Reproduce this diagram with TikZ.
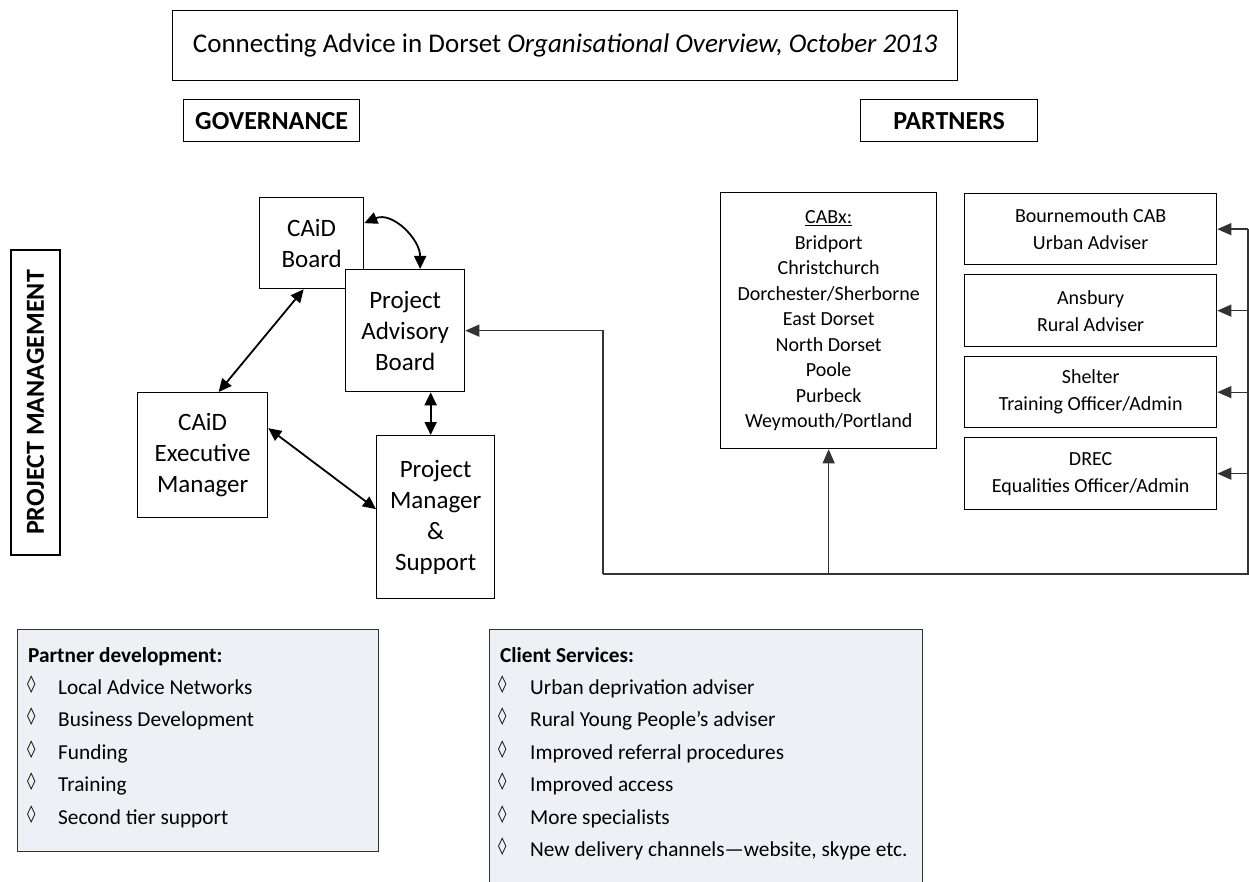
\documentclass[tikz,border=0pt]{standalone}
\usepackage{fontspec}
\setmainfont{Carlito}
\newfontfamily\djv{DejaVu Sans}
\usetikzlibrary{arrows.meta}
\definecolor{panel}{HTML}{EDF0F4}
\definecolor{edge}{HTML}{333333}
\begin{document}
\begin{tikzpicture}[x=1pt,y=-1pt,
  box/.style={draw=black, line width=1.3pt, inner sep=0pt, align=center, anchor=north west},
  bigtxt/.style={font=\fontsize{25}{31}\selectfont},
  midtxt/.style={font=\fontsize{20}{27}\selectfont},
  headtxt/.style={font=\fontsize{26}{30}\selectfont\bfseries},
  panelbox/.style={draw=edge, fill=panel, line width=1.3pt, anchor=north west, inner sep=0pt},
  itemtxt/.style={font=\fontsize{21.3}{24}\selectfont, anchor=base west, inner sep=0pt},
  itemhead/.style={font=\fontsize{21.3}{24}\selectfont\bfseries, anchor=base west, inner sep=0pt},
  dia/.style={font=\djv\fontsize{17}{18}\selectfont, anchor=base west, inner sep=0pt},
  link/.style={line width=1.8pt, {Triangle[length=13pt,width=12pt]}-{Triangle[length=13pt,width=12pt]}},
  feed/.style={line width=1.3pt, draw=edge, -{Triangle[length=14pt,width=12pt]}},
  bus/.style={line width=1.3pt, draw=edge}]
\fill[white] (0,0) rectangle (1249,882);
\useasboundingbox (0,0) rectangle (1249,882);

% headings
\node[box, minimum width=785pt, minimum height=70pt, font=\fontsize{27}{32}\selectfont] (title) at (172,10)
  {Connecting Advice in Dorset \textit{Organisational Overview, October 2013}};
\node[box, minimum width=176pt, minimum height=42pt, headtxt] (gov) at (183,99) {GOVERNANCE};
\node[box, minimum width=177pt, minimum height=42pt, headtxt] (partners) at (860,99) {PARTNERS};
\node[draw=black, line width=1.3pt, inner sep=0pt, minimum width=305pt, minimum height=49pt,
      headtxt, rotate=90] (pm) at (35.5,402.5) {PROJECT MANAGEMENT};

% governance boxes
\node[box, minimum width=104pt, minimum height=91pt, bigtxt] (caid) at (259,197) {CAiD\\Board};
\node[box, fill=white, minimum width=119pt, minimum height=122pt, bigtxt] (pab) at (345,269) {Project\\Advisory\\Board};
\node[box, minimum width=130pt, minimum height=125pt, bigtxt] (exec) at (137,392) {CAiD\\Executive\\Manager};
\node[box, minimum width=118pt, minimum height=163pt, bigtxt] (pms) at (376,435) {Project\\Manager\\\&\\Support};

% partner boxes
\node[box, minimum width=216pt, minimum height=256pt, font=\fontsize{20}{25.5}\selectfont] (cabx) at (720,192)
  {\underline{CABx:}\\Bridport\\Christchurch\\Dorchester/Sherborne\\East Dorset\\North Dorset\\Poole\\Purbeck\\Weymouth/Portland};
\node[box, minimum width=252pt, minimum height=71pt, midtxt] (bourn) at (964,193) {Bournemouth CAB\\Urban Adviser};
\node[box, minimum width=252pt, minimum height=72pt, midtxt] (ansb) at (964,274) {Ansbury\\Rural Adviser};
\node[box, minimum width=252pt, minimum height=71pt, midtxt] (shel) at (964,356) {Shelter\\Training Officer/Admin};
\node[box, minimum width=252pt, minimum height=72pt, midtxt] (drec) at (964,437) {DREC\\Equalities Officer/Admin};

% governance links
\draw[link] ([yshift=20pt]caid.east) .. controls +(28,-12) and +(0,-30) .. ([xshift=15pt]pab.north);
\draw[link] ([xshift=-8pt]caid.south) -- ([xshift=16pt]exec.north);
\draw[link] ([xshift=-5pt]pms.north |- pab.south) -- ([xshift=-5pt]pms.north);
\draw[link] ([yshift=27pt]exec.east) -- ([yshift=8pt]pms.west);

% partner bus
\coordinate (busL) at (603,574);
\coordinate (busR) at (1248,574);
\draw[feed] (busL) |- (pab.east);
\draw[bus] (busL) -- (busR) -- (busR |- bourn.east);
\draw[feed] (cabx.south |- busL) -- (cabx.south);
\draw[feed] (busR |- bourn.east) -- (bourn.east);
\draw[feed] (busR |- ansb.east) -- (ansb.east);
\draw[feed] (busR |- shel.east) -- (shel.east);
\draw[feed] (busR |- drec.east) -- (drec.east);

% partner development panel
\node[panelbox, minimum width=361pt, minimum height=222pt] (pd) at (17,629) {};
\node[itemhead] (pdh) at (28,662) {Partner development:};
\foreach \t [count=\i] in {Local Advice Networks, Business Development, Funding, Training, Second tier support} {
  \node[dia] (pdd\i) at (27,{689+32.5*(\i-1)}) {◊};
  \node[itemtxt] (pdi\i) at (58,{694+32.5*(\i-1)}) {\t};
}

% client services panel
\node[panelbox, minimum width=433pt, minimum height=280pt] (cs) at (489,629) {};
\node[itemhead] (csh) at (500,662) {Client Services:};
\foreach \t [count=\i] in {Urban deprivation adviser, Rural Young People’s adviser, Improved referral procedures, Improved access, More specialists, {New delivery channels—website, skype etc.}} {
  \node[dia] (csd\i) at (498,{689+32.5*(\i-1)}) {◊};
  \node[itemtxt] (csi\i) at (530,{694+32.5*(\i-1)}) {\t};
}
\end{tikzpicture}
\end{document}
